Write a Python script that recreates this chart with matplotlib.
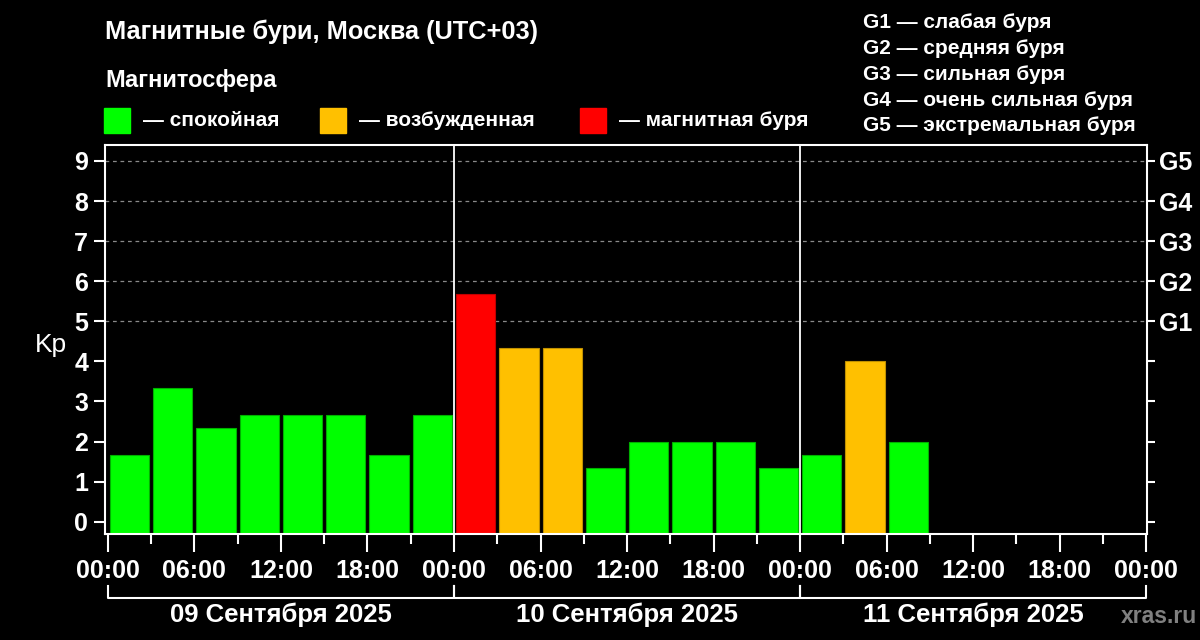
import matplotlib
matplotlib.use('Agg')
import matplotlib.pyplot as plt
from matplotlib.transforms import blended_transform_factory
import numpy as np

# Kp index, 3-hour intervals starting 09.09.2025 00:00 (UTC+03)
kp = [1.67, 3.33, 2.33, 2.67, 2.67, 2.67, 1.67, 2.67,
      5.67, 4.33, 4.33, 1.33, 2.00, 2.00, 2.00, 1.33,
      1.67, 4.00, 2.00]
day_labels = ['09 Сентября 2025', '10 Сентября 2025', '11 Сентября 2025']
hour_labels = ['00:00', '06:00', '12:00', '18:00']
storm_levels = ['G1', 'G2', 'G3', 'G4', 'G5']
storm_names = ['слабая буря', 'средняя буря', 'сильная буря',
               'очень сильная буря', 'экстремальная буря']
legend_names = ['спокойная', 'возбужденная', 'магнитная буря']

GREEN = '#00ff00'
ORANGE = '#ffc000'
RED = '#ff0000'

plt.rcParams['font.family'] = ['Liberation Sans', 'DejaVu Sans']
plt.rcParams['font.weight'] = 'bold'

fig = plt.figure(figsize=(12, 6.4), dpi=100, facecolor='black')
ax = fig.add_axes([0.0875, 0.166, 0.8683, 0.607])
ax.set_facecolor('black')

x = np.arange(len(kp)) * 3 + 1.5
colors = []
edges = []
for v in kp:
    if v >= 5:
        colors.append(RED); edges.append('#c00000')
    elif v >= 4:
        colors.append(ORANGE); edges.append('#c09000')
    else:
        colors.append(GREEN); edges.append('#00b000')
ybot = -0.3
ax.bar(x, np.array(kp) - ybot, bottom=ybot, width=2.72, color=colors,
       edgecolor=edges, linewidth=0.8, zorder=2)

ax.set_xlim(-0.2, 72.05)
ax.set_ylim(ybot, 9.39)

# grid only for storm levels
for lev in range(5, 10):
    ax.axhline(lev, color='#8a8a8a', lw=0.9, ls=(0, (3, 3)), zorder=1)

# day separators
for d in (24, 48):
    ax.axvline(d, color='white', lw=1.3, zorder=3)

for s in ax.spines.values():
    s.set_color('white')
    s.set_linewidth(1.5)

ax.set_xticks(np.arange(0, 73, 6))
ax.set_xticklabels(hour_labels * 3 + ['00:00'])
ax.set_xticks(np.arange(3, 72, 6), minor=True)
ax.tick_params(axis='x', which='major', length=13, width=1.5, color='white',
               labelcolor='white', labelsize=18, pad=5)
ax.tick_params(axis='x', which='minor', length=7, width=1.5, color='white')

ax.set_yticks(range(10))
ax.tick_params(axis='y', which='major', length=8, width=1.5, color='white',
               labelcolor='white', labelsize=18, pad=4)

ax2 = ax.twinx()
ax2.set_ylim(ax.get_ylim())
ax2.set_yticks(range(10))
ax2.set_yticklabels([''] * 5 + storm_levels)
ax2.tick_params(axis='y', length=6, width=1.5, color='white',
                labelcolor='white', labelsize=18, pad=3)
for s in ax2.spines.values():
    s.set_visible(False)

fig.text(0.029, 0.461, 'Kp', color='white', fontsize=19, weight='normal',
         ha='left', va='center')

# day brackets below the time axis
tr = blended_transform_factory(ax.transData, fig.transFigure)
for i, lab in enumerate(day_labels):
    x0, x1 = i * 24, (i + 1) * 24
    ax.plot([x0, x0, x1, x1], [0.0844, 0.0656, 0.0656, 0.0844],
            color='white', lw=1.5, transform=tr, clip_on=False)
    ax.text((x0 + x1) / 2, 0.040, lab, color='white', fontsize=18.5,
            ha='center', va='center', transform=tr)

fig.text(0.9975, 0.036, 'xras.ru', color='#808080', fontsize=16.5,
         ha='right', va='center')

# titles
fig.text(0.0875, 0.950, 'Магнитные бури, Москва (UTC+03)', color='white',
         fontsize=18.3, ha='left', va='center')
fig.text(0.0875, 0.875, 'Магнитосфера', color='white',
         fontsize=17, ha='left', va='center')

# colour legend
sq_x = [104, 320, 580]
for px, col, name in zip(sq_x, [GREEN, ORANGE, RED], legend_names):
    fig.patches.append(plt.Rectangle((px / 1200, 1 - 133 / 640), 26 / 1200, 25 / 640,
                                     transform=fig.transFigure, color=col))
    fig.text((px + 39) / 1200, 1 - 120 / 640, '— ' + name, color='white',
             fontsize=15, ha='left', va='center')

# storm level legend
for i, (g, n) in enumerate(zip(storm_levels, storm_names)):
    fig.text(863 / 1200, 1 - (23 + i * 25.7) / 640, g + ' — ' + n,
             color='white', fontsize=15, ha='left', va='center')

fig.savefig('out.png', dpi=100, facecolor='black')
